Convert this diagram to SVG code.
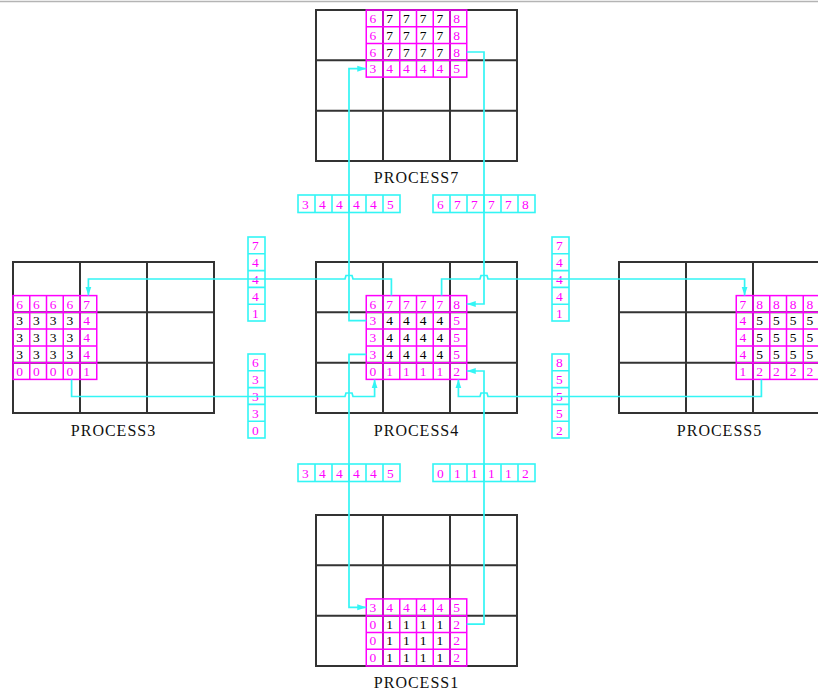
<svg xmlns="http://www.w3.org/2000/svg" width="818" height="692" viewBox="0 0 818 692">
<style>
.grid{fill:none;stroke:#333;stroke-width:2}
.mg{fill:none;stroke:#ff00ff;stroke-width:1.5}
.box{fill:none;stroke:#33f5f5;stroke-width:1.6}
.cy{fill:none;stroke:#33f5f5;stroke-width:1.7}
text{font-family:"Liberation Serif","Times New Roman",serif}
.m{fill:#ff00ff;font-size:13.5px}
.k{fill:#000;font-size:13.5px}
.lbl{fill:#111;font-size:16px;letter-spacing:1px;text-anchor:middle}
</style>
<defs>
<marker id="ar" viewBox="0 0 9 7" refX="9" refY="3.5" markerWidth="9" markerHeight="7" markerUnits="userSpaceOnUse" orient="auto">
<path d="M0,0.5 L9,3.5 L0,6.5 Z" fill="#33f5f5"/>
</marker>
</defs>
<rect width="818" height="692" fill="#fff"/>
<line x1="0" y1="1.5" x2="818" y2="1.5" stroke="#b4b4b4" stroke-width="1.5"/>

<g id="process7">
<rect class="grid" x="316" y="10" width="201" height="151"/>
<path class="grid" d="M383,10V161M450,10V161M316,60.3H517M316,110.7H517"/>
<rect class="mg" x="366.25" y="10" width="100.5" height="67.1"/>
<path class="mg" d="M383,10V77.1M399.75,10V77.1M416.5,10V77.1M433.25,10V77.1M450,10V77.1M366.25,26.8H466.75M366.25,43.6H466.75M366.25,60.3H466.75"/>
<text class="m" x="369.5" y="23">6</text><text class="k" x="386.2" y="23">7</text><text class="k" x="403" y="23">7</text><text class="k" x="419.7" y="23">7</text><text class="k" x="436.5" y="23">7</text><text class="m" x="453.2" y="23">8</text>
<text class="m" x="369.5" y="39.8">6</text><text class="k" x="386.2" y="39.8">7</text><text class="k" x="403" y="39.8">7</text><text class="k" x="419.7" y="39.8">7</text><text class="k" x="436.5" y="39.8">7</text><text class="m" x="453.2" y="39.8">8</text>
<text class="m" x="369.5" y="56.6">6</text><text class="k" x="386.2" y="56.6">7</text><text class="k" x="403" y="56.6">7</text><text class="k" x="419.7" y="56.6">7</text><text class="k" x="436.5" y="56.6">7</text><text class="m" x="453.2" y="56.6">8</text>
<text class="m" x="369.5" y="73.3">3</text><text class="m" x="386.2" y="73.3">4</text><text class="m" x="403" y="73.3">4</text><text class="m" x="419.7" y="73.3">4</text><text class="m" x="436.5" y="73.3">4</text><text class="m" x="453.2" y="73.3">5</text>
<text class="lbl" x="416.5" y="183">PROCESS7</text>
</g>

<g id="process4">
<rect class="grid" x="316" y="262" width="201" height="151"/>
<path class="grid" d="M383,262V413M450,262V413M316,312.3H517M316,362.7H517"/>
<rect class="mg" x="366.25" y="295.6" width="100.5" height="83.8"/>
<path class="mg" d="M383,295.6V379.4M399.75,295.6V379.4M416.5,295.6V379.4M433.25,295.6V379.4M450,295.6V379.4M366.25,312.3H466.75M366.25,329.1H466.75M366.25,345.9H466.75M366.25,362.7H466.75"/>
<text class="m" x="369.5" y="308.6">6</text><text class="m" x="386.2" y="308.6">7</text><text class="m" x="403" y="308.6">7</text><text class="m" x="419.7" y="308.6">7</text><text class="m" x="436.5" y="308.6">7</text><text class="m" x="453.2" y="308.6">8</text>
<text class="m" x="369.5" y="325.3">3</text><text class="k" x="386.2" y="325.3">4</text><text class="k" x="403" y="325.3">4</text><text class="k" x="419.7" y="325.3">4</text><text class="k" x="436.5" y="325.3">4</text><text class="m" x="453.2" y="325.3">5</text>
<text class="m" x="369.5" y="342.1">3</text><text class="k" x="386.2" y="342.1">4</text><text class="k" x="403" y="342.1">4</text><text class="k" x="419.7" y="342.1">4</text><text class="k" x="436.5" y="342.1">4</text><text class="m" x="453.2" y="342.1">5</text>
<text class="m" x="369.5" y="358.9">3</text><text class="k" x="386.2" y="358.9">4</text><text class="k" x="403" y="358.9">4</text><text class="k" x="419.7" y="358.9">4</text><text class="k" x="436.5" y="358.9">4</text><text class="m" x="453.2" y="358.9">5</text>
<text class="m" x="369.5" y="375.7">0</text><text class="m" x="386.2" y="375.7">1</text><text class="m" x="403" y="375.7">1</text><text class="m" x="419.7" y="375.7">1</text><text class="m" x="436.5" y="375.7">1</text><text class="m" x="453.2" y="375.7">2</text>
<text class="lbl" x="416.5" y="436">PROCESS4</text>
</g>

<g id="process3">
<rect class="grid" x="13" y="262" width="201" height="151"/>
<path class="grid" d="M80,262V413M147,262V413M13,312.3H214M13,362.7H214"/>
<rect class="mg" x="13" y="295.6" width="83.75" height="83.8"/>
<path class="mg" d="M29.75,295.6V379.4M46.5,295.6V379.4M63.25,295.6V379.4M80,295.6V379.4M13,312.3H96.75M13,329.1H96.75M13,345.9H96.75M13,362.7H96.75"/>
<text class="m" x="16.25" y="308.6">6</text><text class="m" x="33" y="308.6">6</text><text class="m" x="49.75" y="308.6">6</text><text class="m" x="66.5" y="308.6">6</text><text class="m" x="83.25" y="308.6">7</text>
<text class="k" x="16.25" y="325.3">3</text><text class="k" x="33" y="325.3">3</text><text class="k" x="49.75" y="325.3">3</text><text class="k" x="66.5" y="325.3">3</text><text class="m" x="83.25" y="325.3">4</text>
<text class="k" x="16.25" y="342.1">3</text><text class="k" x="33" y="342.1">3</text><text class="k" x="49.75" y="342.1">3</text><text class="k" x="66.5" y="342.1">3</text><text class="m" x="83.25" y="342.1">4</text>
<text class="k" x="16.25" y="358.9">3</text><text class="k" x="33" y="358.9">3</text><text class="k" x="49.75" y="358.9">3</text><text class="k" x="66.5" y="358.9">3</text><text class="m" x="83.25" y="358.9">4</text>
<text class="m" x="16.25" y="375.7">0</text><text class="m" x="33" y="375.7">0</text><text class="m" x="49.75" y="375.7">0</text><text class="m" x="66.5" y="375.7">0</text><text class="m" x="83.25" y="375.7">1</text>
<text class="lbl" x="113.5" y="436">PROCESS3</text>
</g>

<g id="process5">
<rect class="grid" x="619" y="262" width="201" height="151"/>
<path class="grid" d="M686,262V413M753,262V413M619,312.3H820M619,362.7H820"/>
<rect class="mg" x="736.25" y="295.6" width="100.5" height="83.8"/>
<path class="mg" d="M753,295.6V379.4M769.75,295.6V379.4M786.5,295.6V379.4M803.25,295.6V379.4M820,295.6V379.4M736.25,312.3H836.75M736.25,329.1H836.75M736.25,345.9H836.75M736.25,362.7H836.75"/>
<text class="m" x="739.5" y="308.6">7</text><text class="m" x="756.2" y="308.6">8</text><text class="m" x="773" y="308.6">8</text><text class="m" x="789.7" y="308.6">8</text><text class="m" x="806.5" y="308.6">8</text>
<text class="m" x="739.5" y="325.3">4</text><text class="k" x="756.2" y="325.3">5</text><text class="k" x="773" y="325.3">5</text><text class="k" x="789.7" y="325.3">5</text><text class="k" x="806.5" y="325.3">5</text>
<text class="m" x="739.5" y="342.1">4</text><text class="k" x="756.2" y="342.1">5</text><text class="k" x="773" y="342.1">5</text><text class="k" x="789.7" y="342.1">5</text><text class="k" x="806.5" y="342.1">5</text>
<text class="m" x="739.5" y="358.9">4</text><text class="k" x="756.2" y="358.9">5</text><text class="k" x="773" y="358.9">5</text><text class="k" x="789.7" y="358.9">5</text><text class="k" x="806.5" y="358.9">5</text>
<text class="m" x="739.5" y="375.7">1</text><text class="m" x="756.2" y="375.7">2</text><text class="m" x="773" y="375.7">2</text><text class="m" x="789.7" y="375.7">2</text><text class="m" x="806.5" y="375.7">2</text>
<text class="lbl" x="719.5" y="436">PROCESS5</text>
</g>

<g id="process1">
<rect class="grid" x="316" y="515" width="201" height="151"/>
<path class="grid" d="M383,515V666M450,515V666M316,565.3H517M316,615.7H517"/>
<rect class="mg" x="366.25" y="598.9" width="100.5" height="67.1"/>
<path class="mg" d="M383,598.9V666M399.75,598.9V666M416.5,598.9V666M433.25,598.9V666M450,598.9V666M366.25,615.7H466.75M366.25,632.4H466.75M366.25,649.2H466.75"/>
<text class="m" x="369.5" y="611.9">3</text><text class="m" x="386.2" y="611.9">4</text><text class="m" x="403" y="611.9">4</text><text class="m" x="419.7" y="611.9">4</text><text class="m" x="436.5" y="611.9">4</text><text class="m" x="453.2" y="611.9">5</text>
<text class="m" x="369.5" y="628.7">0</text><text class="k" x="386.2" y="628.7">1</text><text class="k" x="403" y="628.7">1</text><text class="k" x="419.7" y="628.7">1</text><text class="k" x="436.5" y="628.7">1</text><text class="m" x="453.2" y="628.7">2</text>
<text class="m" x="369.5" y="645.4">0</text><text class="k" x="386.2" y="645.4">1</text><text class="k" x="403" y="645.4">1</text><text class="k" x="419.7" y="645.4">1</text><text class="k" x="436.5" y="645.4">1</text><text class="m" x="453.2" y="645.4">2</text>
<text class="m" x="369.5" y="662.2">0</text><text class="k" x="386.2" y="662.2">1</text><text class="k" x="403" y="662.2">1</text><text class="k" x="419.7" y="662.2">1</text><text class="k" x="436.5" y="662.2">1</text><text class="m" x="453.2" y="662.2">2</text>
<text class="lbl" x="416.5" y="688">PROCESS1</text>
</g>

<g id="msg-top-left">
<rect class="box" x="298" y="195" width="102" height="17.5"/>
<path class="box" d="M315,195V212.5M332,195V212.5M349,195V212.5M366,195V212.5M383,195V212.5"/>
<text class="m" x="302" y="209">3</text><text class="m" x="319" y="209">4</text><text class="m" x="336" y="209">4</text><text class="m" x="353" y="209">4</text><text class="m" x="370" y="209">4</text><text class="m" x="387" y="209">5</text>
</g>
<g id="msg-top-right">
<rect class="box" x="433" y="195" width="102" height="17.5"/>
<path class="box" d="M450,195V212.5M467,195V212.5M484,195V212.5M501,195V212.5M518,195V212.5"/>
<text class="m" x="437" y="209">6</text><text class="m" x="454" y="209">7</text><text class="m" x="471" y="209">7</text><text class="m" x="488" y="209">7</text><text class="m" x="505" y="209">7</text><text class="m" x="522" y="209">8</text>
</g>
<g id="msg-bottom-left">
<rect class="box" x="298" y="464" width="102" height="17.5"/>
<path class="box" d="M315,464V481.5M332,464V481.5M349,464V481.5M366,464V481.5M383,464V481.5"/>
<text class="m" x="302" y="478">3</text><text class="m" x="319" y="478">4</text><text class="m" x="336" y="478">4</text><text class="m" x="353" y="478">4</text><text class="m" x="370" y="478">4</text><text class="m" x="387" y="478">5</text>
</g>
<g id="msg-bottom-right">
<rect class="box" x="433" y="464" width="102" height="17.5"/>
<path class="box" d="M450,464V481.5M467,464V481.5M484,464V481.5M501,464V481.5M518,464V481.5"/>
<text class="m" x="437" y="478">0</text><text class="m" x="454" y="478">1</text><text class="m" x="471" y="478">1</text><text class="m" x="488" y="478">1</text><text class="m" x="505" y="478">1</text><text class="m" x="522" y="478">2</text>
</g>
<g id="msg-left-top">
<rect class="box" x="248" y="237" width="17" height="84"/>
<path class="box" d="M248,253.8H265M248,270.6H265M248,287.4H265M248,304.2H265"/>
<text class="m" x="252" y="250.3">7</text><text class="m" x="252" y="267.1">4</text><text class="m" x="252" y="283.9">4</text><text class="m" x="252" y="300.7">4</text><text class="m" x="252" y="317.5">1</text>
</g>
<g id="msg-left-bottom">
<rect class="box" x="248" y="354" width="17" height="84"/>
<path class="box" d="M248,370.8H265M248,387.6H265M248,404.4H265M248,421.2H265"/>
<text class="m" x="252" y="367.3">6</text><text class="m" x="252" y="384.1">3</text><text class="m" x="252" y="400.9">3</text><text class="m" x="252" y="417.7">3</text><text class="m" x="252" y="434.5">0</text>
</g>
<g id="msg-right-top">
<rect class="box" x="552" y="237" width="17" height="84"/>
<path class="box" d="M552,253.8H569M552,270.6H569M552,287.4H569M552,304.2H569"/>
<text class="m" x="556" y="250.3">7</text><text class="m" x="556" y="267.1">4</text><text class="m" x="556" y="283.9">4</text><text class="m" x="556" y="300.7">4</text><text class="m" x="556" y="317.5">1</text>
</g>
<g id="msg-right-bottom">
<rect class="box" x="552" y="354" width="17" height="84"/>
<path class="box" d="M552,370.8H569M552,387.6H569M552,404.4H569M552,421.2H569"/>
<text class="m" x="556" y="367.3">8</text><text class="m" x="556" y="384.1">5</text><text class="m" x="556" y="400.9">5</text><text class="m" x="556" y="417.7">5</text><text class="m" x="556" y="434.5">2</text>
</g>

<g id="connectors">
<path class="cy" marker-end="url(#ar)" d="M366.25,320.7H349V68.7H366.25"/>
<path class="cy" marker-end="url(#ar)" d="M466.75,52H484V304H466.75"/>
<path class="cy" marker-end="url(#ar)" d="M391.4,295.6V279H353L352,275.5H346L345,279H88.4V295.6"/>
<path class="cy" marker-end="url(#ar)" d="M441.6,295.6V279H480L481,275.5H487L488,279H744.6V295.6"/>
<path class="cy" marker-end="url(#ar)" d="M71.6,379.4V396.5H345L346,393H352L353,396.5H374.6V379.4"/>
<path class="cy" marker-end="url(#ar)" d="M761.4,379.4V396.5H488L487,393H481L480,396.5H458.4V379.4"/>
<path class="cy" marker-end="url(#ar)" d="M466.75,624.1H484V371H466.75"/>
<path class="cy" marker-end="url(#ar)" d="M366.25,354.3H349V607.3H366.25"/>
</g>
</svg>
